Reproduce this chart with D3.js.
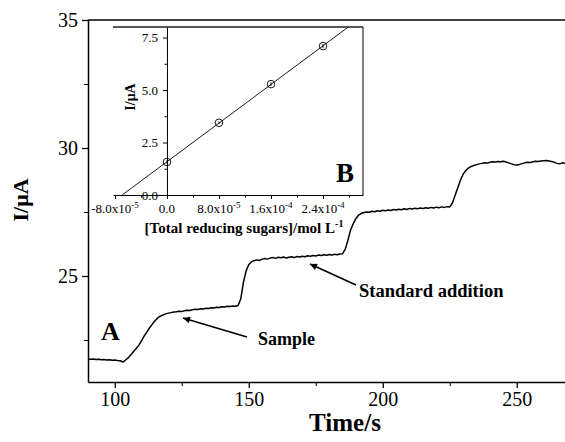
<!DOCTYPE html>
<html><head><meta charset="utf-8">
<script src="https://cdnjs.cloudflare.com/ajax/libs/d3/7.8.5/d3.min.js"></script>
<style>
  body { margin: 0; background: #fff; }
  .axis path, .axis line { stroke: #000; }
</style>
</head>
<body>
<svg id="chart" width="565" height="442"></svg>
<script>
// ---- data: current trace (panel A), sampled every second from 90 s
const startTime = 90;
const current = [
  21.76, 21.75, 21.76, 21.74, 21.75, 21.73, 21.74, 21.72, 21.73, 21.71,
  21.72, 21.70, 21.69, 21.64, 21.72, 21.80, 21.92, 22.05, 22.17, 22.30,
  22.48, 22.66, 22.82, 22.98, 23.12, 23.25, 23.36, 23.43, 23.48, 23.52,
  23.55, 23.57, 23.59, 23.60, 23.62, 23.61, 23.64, 23.66, 23.65, 23.68,
  23.70, 23.69, 23.72, 23.71, 23.74, 23.73, 23.76, 23.75, 23.78, 23.77,
  23.80, 23.79, 23.82, 23.81, 23.83, 23.82, 23.85, 24.10, 24.75, 25.20,
  25.45, 25.55, 25.60, 25.63, 25.61, 25.66, 25.68, 25.66, 25.70, 25.72,
  25.69, 25.73, 25.71, 25.74, 25.70, 25.73, 25.75, 25.72, 25.76, 25.74,
  25.77, 25.75, 25.79, 25.77, 25.80, 25.78, 25.82, 25.80, 25.83, 25.81,
  25.84, 25.82, 25.85, 25.83, 25.86, 25.87, 26.05, 26.40, 26.80, 27.05,
  27.25, 27.38, 27.45, 27.48, 27.50, 27.49, 27.53, 27.51, 27.55, 27.53,
  27.57, 27.55, 27.58, 27.56, 27.60, 27.58, 27.61, 27.59, 27.63, 27.60,
  27.64, 27.62, 27.65, 27.63, 27.66, 27.64, 27.67, 27.65, 27.68, 27.66,
  27.69, 27.67, 27.70, 27.68, 27.71, 27.70, 27.85, 28.15, 28.45, 28.75,
  28.98, 29.12, 29.22, 29.28, 29.32, 29.35, 29.38, 29.40, 29.42, 29.41,
  29.44, 29.46, 29.45, 29.47, 29.46, 29.48, 29.45, 29.42, 29.38, 29.35,
  29.34, 29.36, 29.39, 29.42, 29.44, 29.43, 29.46, 29.48, 29.47, 29.49,
  29.50, 29.51, 29.49, 29.47, 29.44, 29.40, 29.38, 29.42, 29.40
];
const timeTicks = [100, 150, 200, 250];
const timeMinor = [125, 175, 225];
const currentTicks = [25, 30, 35];
const currentMinor = [22.5, 27.5, 32.5];

// ---- data: calibration (panel B)
const conc = [0, 8.0e-5, 1.6e-4, 2.4e-4];
const peak = [1.57, 3.44, 5.28, 7.09];
const peakErr = [0.08, 0.06, 0.09, 0.10];
const concTicks = [-8.0e-5, 0, 8.0e-5, 1.6e-4, 2.4e-4];
const concTickMant = ["-8.0x10", "0.0", "8.0x10", "1.6x10", "2.4x10"];
const concTickExp = ["-5", "", "-5", "-4", "-4"];
const concMinor = [-4.0e-5, 4.0e-5, 1.2e-4, 2.0e-4, 2.8e-4];
const peakTicks = [0, 2.5, 5.0, 7.5];
const peakMinor = [1.25, 3.75, 6.25];

const FONT = '"Liberation Serif", "Times New Roman", "DejaVu Serif", serif';
const svg = d3.select("#chart");

// main panel
const m = { left: 88, right: 565, top: 20, bottom: 382 };
const x = d3.scaleLinear().domain([90, 268]).range([m.left, m.right]);
const y = d3.scaleLinear().domain([20.86, 35]).range([m.bottom, m.top]);

svg.append("line")
  .attr("x1", m.left).attr("x2", m.right).attr("y1", m.top).attr("y2", m.top)
  .attr("stroke", "#000").attr("stroke-width", 1.5);

function styleAxis(g, size) {
  g.select(".domain").attr("stroke-width", 1.5);
  g.selectAll(".tick line").attr("stroke-width", 1.3);
  g.selectAll("text").style("font-size", size);
}

svg.append("g").attr("class", "axis")
  .attr("transform", "translate(0," + m.bottom + ")")
  .call(d3.axisBottom(x).tickValues(timeTicks).tickSize(6).tickSizeOuter(0).tickPadding(4))
  .call(g => styleAxis(g, "20px"));
svg.append("g").attr("class", "axis")
  .attr("transform", "translate(0," + m.bottom + ")")
  .call(d3.axisBottom(x).tickValues(timeMinor).tickSize(4).tickFormat(""))
  .call(g => g.select(".domain").remove());

svg.append("g").attr("class", "axis")
  .attr("transform", "translate(" + m.left + ",0)")
  .call(d3.axisLeft(y).tickValues(currentTicks).tickSize(6).tickSizeOuter(0).tickPadding(4))
  .call(g => styleAxis(g, "20px"));
svg.append("g").attr("class", "axis")
  .attr("transform", "translate(" + m.left + ",0)")
  .call(d3.axisLeft(y).tickValues(currentMinor).tickSize(4).tickFormat(""))
  .call(g => g.select(".domain").remove());

const line = d3.line()
  .x((d, i) => x(startTime + i))
  .y(d => y(d));
svg.append("path")
  .datum(current)
  .attr("d", line)
  .attr("fill", "none")
  .attr("stroke", "#000")
  .attr("stroke-width", 1.5)
  .attr("stroke-linejoin", "round");

svg.append("text")
  .attr("transform", "translate(28,200) rotate(-90)")
  .attr("text-anchor", "middle")
  .style("font-size", "22px").style("font-weight", "bold")
  .text("I/μA");
svg.append("text")
  .attr("x", 345).attr("y", 431)
  .attr("text-anchor", "middle")
  .style("font-size", "25px").style("font-weight", "bold")
  .text("Time/s");

svg.append("text").attr("x", 101).attr("y", 340)
  .style("font-size", "26px").style("font-weight", "bold").text("A");

// arrows
const defs = svg.append("defs");
defs.append("marker")
  .attr("id", "head").attr("viewBox", "0 0 10 10")
  .attr("refX", 10).attr("refY", 5)
  .attr("markerWidth", 11).attr("markerHeight", 7)
  .attr("markerUnits", "userSpaceOnUse")
  .attr("orient", "auto")
  .append("path").attr("d", "M0,0 L10,5 L0,10 Z").attr("fill", "#000");

svg.append("line").attr("x1", 247).attr("y1", 337).attr("x2", 183).attr("y2", 318)
  .attr("stroke", "#000").attr("stroke-width", 1.5).attr("marker-end", "url(#head)");
svg.append("text").attr("x", 258).attr("y", 345)
  .style("font-size", "18px").style("font-weight", "bold").text("Sample");

svg.append("line").attr("x1", 356).attr("y1", 285).attr("x2", 310).attr("y2", 264)
  .attr("stroke", "#000").attr("stroke-width", 1.5).attr("marker-end", "url(#head)");
svg.append("text").attr("x", 359).attr("y", 297)
  .style("font-size", "18.5px").style("font-weight", "bold").text("Standard addition");

// inset panel
const im = { left: 113, right: 363, top: 27, bottom: 195 };
const ix = d3.scaleLinear().domain([-8.3e-5, 3.015e-4]).range([im.left, im.right]);
const iy = d3.scaleLinear().domain([0, 8]).range([im.bottom, im.top]);

svg.append("line")
  .attr("x1", im.left).attr("x2", im.right).attr("y1", im.top).attr("y2", im.top)
  .attr("stroke", "#222").attr("stroke-width", 1.6);
svg.append("line")
  .attr("x1", im.right).attr("x2", im.right).attr("y1", im.top).attr("y2", im.bottom)
  .attr("stroke", "#000").attr("stroke-width", 1);

const ixAxis = svg.append("g").attr("class", "axis")
  .attr("transform", "translate(0," + im.bottom + ")")
  .call(d3.axisBottom(ix).tickValues(concTicks).tickSize(4).tickSizeOuter(0).tickFormat(""));
ixAxis.select(".domain").attr("stroke-width", 1.2);
svg.append("g").attr("class", "axis")
  .attr("transform", "translate(0," + im.bottom + ")")
  .call(d3.axisBottom(ix).tickValues(concMinor).tickSize(2.5).tickFormat(""))
  .call(g => g.select(".domain").remove());

const concLab = svg.append("g").selectAll("text").data(concTicks).join("text")
  .attr("x", d => ix(d)).attr("y", im.bottom + 18)
  .attr("text-anchor", "middle")
  .style("font-size", "13px");
concLab.append("tspan").text((d, i) => concTickMant[i]);
concLab.append("tspan").attr("dy", -5).style("font-size", "9px").text((d, i) => concTickExp[i]);

svg.append("g").attr("class", "axis")
  .attr("transform", "translate(" + ix(0) + ",0)")
  .call(d3.axisLeft(iy).tickValues(peakTicks).tickSize(4).tickSizeOuter(0).tickPadding(5)
    .tickFormat(d3.format(".1f")))
  .call(g => { g.select(".domain").attr("stroke-width", 1);
    g.selectAll("text").style("font-size", "13px"); });
svg.append("g").attr("class", "axis")
  .attr("transform", "translate(" + ix(0) + ",0)")
  .call(d3.axisLeft(iy).tickValues(peakMinor).tickSize(2.5).tickFormat(""))
  .call(g => g.select(".domain").remove());

// least squares fit through calibration points
const mx = d3.mean(conc), my = d3.mean(peak);
const slope = d3.sum(conc, (c, i) => (c - mx) * (peak[i] - my)) / d3.sum(conc, c => (c - mx) * (c - mx));
const icpt = my - slope * mx;
const fitX = [(0 - icpt) / slope, (iy.domain()[1] - icpt) / slope];
svg.append("line")
  .attr("x1", ix(fitX[0])).attr("y1", iy(0))
  .attr("x2", ix(fitX[1])).attr("y2", iy(iy.domain()[1]))
  .attr("stroke", "#000").attr("stroke-width", 0.9);

const pts = svg.append("g").selectAll("g").data(conc).join("g");
pts.append("line")
  .attr("x1", d => ix(d)).attr("x2", d => ix(d))
  .attr("y1", (d, i) => iy(peak[i] - peakErr[i])).attr("y2", (d, i) => iy(peak[i] + peakErr[i]))
  .attr("stroke", "#000").attr("stroke-width", 0.9);
pts.append("circle")
  .attr("cx", d => ix(d)).attr("cy", (d, i) => iy(peak[i]))
  .attr("r", 3.8).attr("fill", "none").attr("stroke", "#000").attr("stroke-width", 0.9);

svg.append("text")
  .attr("transform", "translate(135,97) rotate(-90)")
  .attr("text-anchor", "middle")
  .style("font-size", "14px").style("font-weight", "bold")
  .text("I/μA");

const xl = svg.append("text").attr("x", 244).attr("y", 233)
  .attr("text-anchor", "middle")
  .style("font-size", "15px").style("font-weight", "bold");
xl.append("tspan").text("[Total reducing sugars]/mol L");
xl.append("tspan").attr("dy", -6).style("font-size", "10px").text("-1");

svg.append("text").attr("x", 336).attr("y", 182)
  .style("font-size", "27px").style("font-weight", "bold").text("B");

// serif everywhere
svg.selectAll("g").attr("font-family", null);
svg.selectAll("text").style("font-family", FONT).attr("fill", "#000");
</script>
</body></html>
